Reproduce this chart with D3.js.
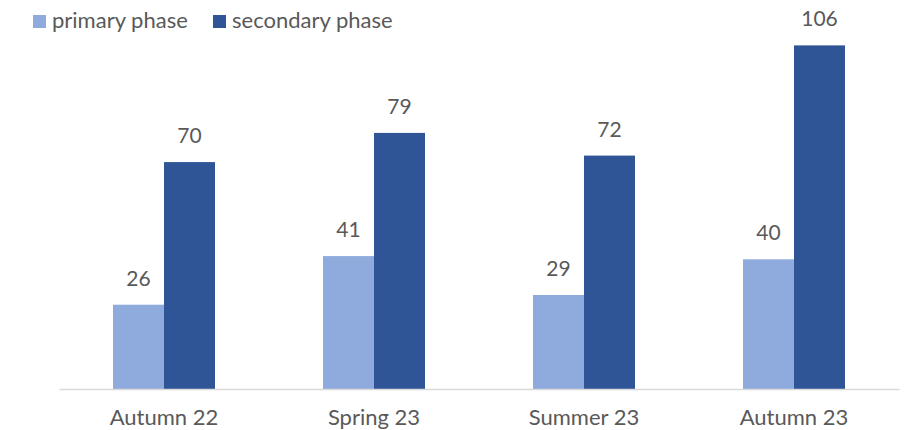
<!DOCTYPE html>
<html lang="en">
<head>
  <meta charset="UTF-8">
  <title>Primary vs secondary phase</title>
  <script src="https://d3js.org/d3.v7.min.js"></script>
  <style>
    body { margin: 0; padding: 0; background: #fff; }
    svg text { font-family: Lato, "Open Sans", sans-serif; fill: #595959; }
  </style>
</head>
<body>
  <div id="chart"></div>

  <script>
    // Chart data
    const categories = ["Autumn 22", "Spring 23", "Summer 23", "Autumn 23"];
    const seriesNames = ["primary phase", "secondary phase"];
    const primary = [26, 41, 29, 40];
    const secondary = [70, 79, 72, 106];

    const colors = { "primary phase": "#8FAADC", "secondary phase": "#2F5597" };

    const width = 917;
    const height = 430;
    const baseline = 389;

    const svg = d3.select("#chart")
      .append("svg")
      .attr("width", width)
      .attr("height", height);

    const rows = categories.map((c, i) => ({
      category: c,
      values: [
        { series: seriesNames[0], value: primary[i] },
        { series: seriesNames[1], value: secondary[i] }
      ]
    }));

    // Scales
    const x0 = d3.scaleBand()
      .domain(categories)
      .range([59, 899]);

    const x1 = d3.scaleBand()
      .domain(seriesNames)
      .range([0, 102]);

    const groupOffset = (x0.bandwidth() - 102) / 2;

    const y = d3.scaleLinear()
      .domain([0, 120])
      .range([baseline, 0]);

    // Bars
    const groups = svg.selectAll(".group")
      .data(rows)
      .enter()
      .append("g")
      .attr("class", "group")
      .attr("transform", d => `translate(${x0(d.category) + groupOffset}, 0)`);

    groups.selectAll("rect")
      .data(d => d.values)
      .enter()
      .append("rect")
      .attr("x", d => x1(d.series))
      .attr("y", d => y(d.value))
      .attr("width", x1.bandwidth())
      .attr("height", d => baseline - y(d.value))
      .attr("fill", d => colors[d.series]);

    // Value labels
    groups.selectAll(".value")
      .data(d => d.values)
      .enter()
      .append("text")
      .attr("class", "value")
      .attr("x", d => x1(d.series) + x1.bandwidth() / 2)
      .attr("y", d => y(d.value) - 19)
      .attr("text-anchor", "middle")
      .style("font-size", "21px")
      .text(d => d.value);

    // X axis
    const xAxis = d3.axisBottom(x0).tickSize(0).tickPadding(20);
    const gx = svg.append("g")
      .attr("transform", `translate(0, ${baseline})`)
      .call(xAxis);
    gx.select(".domain").attr("stroke", "#D9D9D9").attr("stroke-width", 1.3);
    gx.selectAll("text")
      .style("font-size", "22px")
      .attr("fill", "#595959")
      .attr("dy", "0")
      .attr("y", 36);

    // Legend
    const legendX = [33, 213];
    const legend = svg.selectAll(".legend")
      .data(seriesNames)
      .enter()
      .append("g")
      .attr("class", "legend")
      .attr("transform", (d, i) => `translate(${legendX[i]}, 15)`);

    legend.append("rect")
      .attr("width", 13)
      .attr("height", 13)
      .attr("fill", d => colors[d]);

    legend.append("text")
      .attr("x", 19)
      .attr("y", 13)
      .style("font-size", "22px")
      .text(d => d);
  </script>
</body>
</html>
